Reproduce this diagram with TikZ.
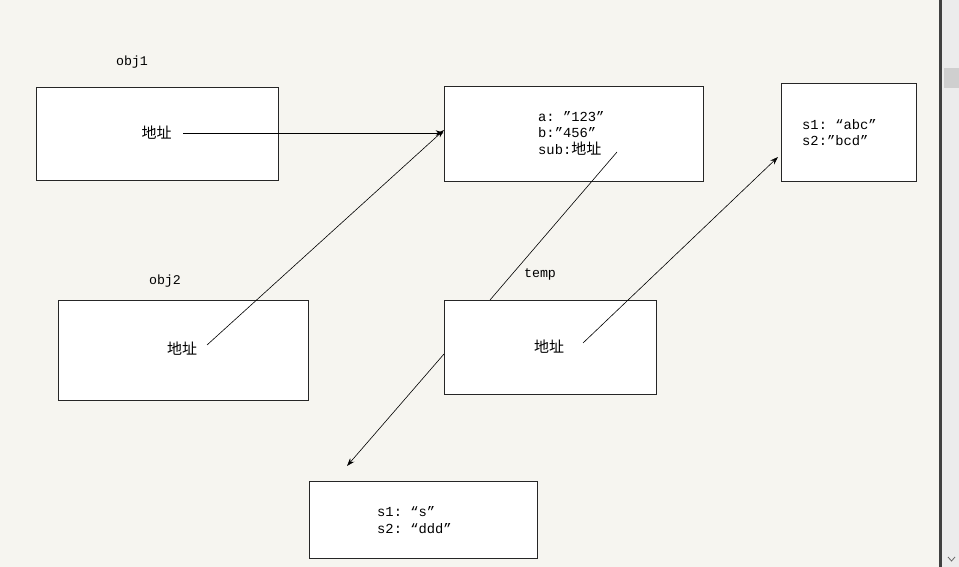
\documentclass[tikz,border=0pt]{standalone}
\usepackage{fontspec}
\setmonofont{Liberation Mono}
\newfontfamily\cjk{Noto Sans CJK SC}
\usetikzlibrary{arrows.meta}
\definecolor{bgc}{HTML}{F6F5F0}
\definecolor{sbar}{HTML}{ECECEC}
\definecolor{sthumb}{HTML}{CFCFCF}
\begin{document}
\begin{tikzpicture}[x=1pt,y=-1pt,
  box/.style={draw=black!85, line width=0.8pt, fill=white, inner sep=0pt},
  lbl/.style={font=\ttfamily\fontsize{13.3}{16}\selectfont, inner sep=0pt},
  txt/.style={font=\ttfamily\fontsize{13.8}{16.5}\selectfont, inner sep=0pt, align=left, anchor=west},
  addr/.style={font=\cjk\fontsize{15}{16}\selectfont, inner sep=0pt},
  link/.style={line width=0.6pt, black},
  arr/.style={link, -{Stealth[length=8pt,width=5.5pt]}}]
\useasboundingbox (0,0) rectangle (959,567);
\fill[bgc] (0,0) rectangle (959,567);
% scrollbar
\fill[black!75] (939,0) rectangle (942,567);
\fill[sbar] (942,0) rectangle (959,567);
\fill[sthumb] (944,68) rectangle (959,88);
\draw[black!60, line width=0.8pt] (948,557) -- (951.5,561) -- (955,557);
% boxes
\node[box, minimum width=242pt, minimum height=93pt] (obj1) at (157,133.5) {};
\node[box, minimum width=250pt, minimum height=100pt] (obj2) at (183,350) {};
\node[box, minimum width=259pt, minimum height=95pt] (boxa) at (573.5,133.5) {};
\node[box, minimum width=212pt, minimum height=94pt] (temp) at (550,347) {};
\node[box, minimum width=135pt, minimum height=98pt] (boxs) at (848.5,132) {};
\node[box, minimum width=228pt, minimum height=77pt] (boxd) at (423,519.5) {};
% labels
\node[lbl] (obj1lbl) at (132,62) {obj1};
\node[lbl] (obj2lbl) at (165,281) {obj2};
\node[lbl] (templbl) at (540,274) {temp};
% contents
\node[addr] (addr1) at (156.5,133) {地址};
\node[addr] (addr2) at (182,349) {地址};
\node[addr] (addr3) at (549,347) {地址};
\node[txt] (atext) at (538,133) {a: ”123”\\b:”456”\\sub:{\cjk\fontsize{15}{16.5}\selectfont 地址}};
\node[txt] (stext) at (802,132.5) {s1: “abc”\\s2:”bcd”};
\node[txt] (dtext) at (377,520) {s1: “s”\\s2: “ddd”};
% connectors
\coordinate (p1) at (183,133);
\coordinate (p2) at (207,345);
\coordinate (p2e) at (444,130);
\coordinate (p3) at (617,152);
\coordinate (p3e) at (490,300);
\coordinate (p4) at (583,343);
\coordinate (p4e) at (778,157);
\coordinate (p5) at (444,354);
\coordinate (p5e) at (347,466);
\draw[arr] (p1) -- (p1 -| boxa.west);
\draw[arr] (p2) -- (p2e);
\draw[link] (p3) -- (p3e);
\draw[arr] (p4) -- (p4e);
\draw[arr] (p5) -- (p5e);
\end{tikzpicture}
\end{document}
